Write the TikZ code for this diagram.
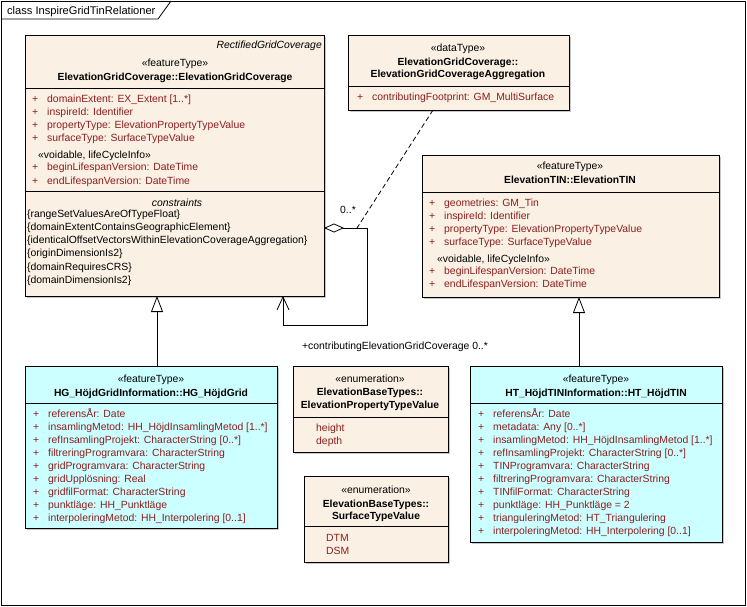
\documentclass[tikz,border=0pt]{standalone}
\usepackage{fontspec}
\setmainfont{Liberation Sans}
\usetikzlibrary{arrows.meta,shadows}
\definecolor{classbeige}{RGB}{250,240,228}
\definecolor{classcyan}{RGB}{204,255,255}
\definecolor{attrred}{RGB}{140,30,30}
\newcommand{\attr}[1]{\makebox[15pt][l]{+}#1}

\begin{document}
\begin{tikzpicture}[x=1pt,y=-1pt,
    every node/.style={font=\fontsize{10.4}{13}\selectfont, inner sep=0pt},
    classbox/.style={draw=black, line width=0.9pt, fill=classbeige, anchor=north west, outer sep=0pt,
        general shadow={fill=black!22, shadow xshift=2pt, shadow yshift=-2pt}},
    newbox/.style={classbox, fill=classcyan},
    sepline/.style={line width=0.9pt},
    stereo/.style={anchor=base},
    cname/.style={anchor=base, font=\fontsize{10.3}{13}\selectfont\bfseries},
    attrtext/.style={anchor=base west, text=attrred},
    plain/.style={anchor=base west},
    gen/.style={-{Triangle[open,length=16pt,width=12pt]}, line width=0.8pt},
    agg/.style={{Diamond[open,length=20pt,width=9pt]}-{Straight Barb[length=13pt,width=12pt]}, line width=0.8pt},
    ]
    \useasboundingbox (0,0) rectangle (747,607);

    % frame
    \draw[line width=0.8pt] (1,1) rectangle (745,605);
    \draw[line width=0.8pt] (1,19) -- (158,19) -- (171,1);
    \node[plain, font=\fontsize{11.1}{13}\selectfont] (framelbl) at (7,15) {class InspireGridTinRelationer};

    % class boxes
    \node[classbox, minimum width=299pt, minimum height=261pt] (gridcov) at (25,35) {};
    \node[classbox, minimum width=221pt, minimum height=75pt] (gridagg) at (348,35) {};
    \node[classbox, minimum width=297pt, minimum height=142pt] (tin) at (422,155) {};
    \node[newbox, minimum width=252pt, minimum height=162pt] (hgrid) at (25,366) {};
    \node[classbox, minimum width=155pt, minimum height=86pt] (proptype) at (293,366) {};
    \node[classbox, minimum width=144pt, minimum height=86pt] (surftype) at (304,476) {};
    \node[newbox, minimum width=252pt, minimum height=176pt] (htin) at (470,366) {};

    % compartments
    \draw[sepline] (gridcov.north west) ++(0,53) -- +(299,0);
    \draw[sepline] (gridcov.north west) ++(0,156) -- +(299,0);
    \draw[sepline] (gridagg.north west) ++(0,51) -- +(221,0);
    \draw[sepline] (tin.north west) ++(0,37) -- +(297,0);
    \draw[sepline] (hgrid.north west) ++(0,37) -- +(252,0);
    \draw[sepline] (proptype.north west) ++(0,51) -- +(155,0);
    \draw[sepline] (surftype.north west) ++(0,50) -- +(144,0);
    \draw[sepline] (htin.north west) ++(0,37) -- +(252,0);

    % ElevationGridCoverage
    \node[anchor=base east, font=\fontsize{10.4}{13}\selectfont\itshape] (gc-abs) at (322,49) {RectifiedGridCoverage};
    \node[stereo] (gc-st) at (175,67) {«featureType»};
    \node[cname] (gc-nm) at (175,81) {ElevationGridCoverage::ElevationGridCoverage};
    \foreach \txt [count=\i from 0] in {{domainExtent: EX\_Extent [1..*]}, {inspireId: Identifier},
        {propertyType: ElevationPropertyTypeValue}, {surfaceType: SurfaceTypeValue}}
        \node[attrtext] (gc-a\i) at (32,103+13*\i) {\attr{\txt}};
    \node[plain] (gc-vd) at (38,159) {«voidable, lifeCycleInfo»};
    \node[attrtext] (gc-b0) at (32,171) {\attr{beginLifespanVersion: DateTime}};
    \node[attrtext] (gc-b1) at (32,185) {\attr{endLifespanVersion: DateTime}};
    \node[stereo, font=\fontsize{10.4}{13}\selectfont\itshape] (gc-cs) at (177,206) {constraints};
    \foreach \txt [count=\i from 0] in {{\{rangeSetValuesAreOfTypeFloat\}}, {\{domainExtentContainsGeographicElement\}},
        {\{identicalOffsetVectorsWithinElevationCoverageAggregation\}}, {\{originDimensionIs2\}},
        {\{domainRequiresCRS\}}, {\{domainDimensionIs2\}}}
        \node[plain] (gc-c\i) at (27,217+13.3*\i) {\txt};

    % ElevationGridCoverageAggregation
    \node[stereo] (ga-st) at (458,52) {«dataType»};
    \node[cname] (ga-nm1) at (458,66) {ElevationGridCoverage::};
    \node[cname] (ga-nm2) at (458,78) {ElevationGridCoverageAggregation};
    \node[attrtext] (ga-a0) at (357,101) {\attr{contributingFootprint: GM\_MultiSurface}};

    % ElevationTIN
    \node[stereo] (tn-st) at (570,170) {«featureType»};
    \node[cname] (tn-nm) at (570,183) {ElevationTIN::ElevationTIN};
    \foreach \txt [count=\i from 0] in {{geometries: GM\_Tin}, {inspireId: Identifier},
        {propertyType: ElevationPropertyTypeValue}, {surfaceType: SurfaceTypeValue}}
        \node[attrtext] (tn-a\i) at (429,206+13*\i) {\attr{\txt}};
    \node[plain] (tn-vd) at (437,262) {«voidable, lifeCycleInfo»};
    \node[attrtext] (tn-b0) at (429,274) {\attr{beginLifespanVersion: DateTime}};
    \node[attrtext] (tn-b1) at (429,287) {\attr{endLifespanVersion: DateTime}};

    % HG_HoejdGrid
    \node[stereo] (hg-st) at (151,382) {«featureType»};
    \node[cname] (hg-nm) at (151,396) {HG\_HöjdGridInformation::HG\_HöjdGrid};
    \foreach \txt [count=\i from 0] in {{referensÅr: Date}, {insamlingMetod: HH\_HöjdInsamlingMetod [1..*]},
        {refInsamlingProjekt: CharacterString [0..*]}, {filtreringProgramvara: CharacterString},
        {gridProgramvara: CharacterString}, {gridUpplösning: Real}, {gridfilFormat: CharacterString},
        {punktläge: HH\_Punktläge}, {interpoleringMetod: HH\_Interpolering [0..1]}}
        \node[attrtext] (hg-a\i) at (33,417+13*\i) {\attr{\txt}};

    % enumerations
    \node[stereo] (pt-st) at (370,382) {«enumeration»};
    \node[cname] (pt-nm1) at (370,395) {ElevationBaseTypes::};
    \node[cname] (pt-nm2) at (370,408) {ElevationPropertyTypeValue};
    \node[attrtext] (pt-l0) at (316,431) {height};
    \node[attrtext] (pt-l1) at (316,444) {depth};

    \node[stereo] (st-st) at (376,493) {«enumeration»};
    \node[cname] (st-nm1) at (376,507) {ElevationBaseTypes::};
    \node[cname] (st-nm2) at (376,519) {SurfaceTypeValue};
    \node[attrtext] (st-l0) at (326,541) {DTM};
    \node[attrtext] (st-l1) at (326,554) {DSM};

    % HT_HoejdTIN
    \node[stereo] (ht-st) at (596,382) {«featureType»};
    \node[cname] (ht-nm) at (596,396) {HT\_HöjdTINInformation::HT\_HöjdTIN};
    \foreach \txt [count=\i from 0] in {{referensÅr: Date}, {metadata: Any [0..*]},
        {insamlingMetod: HH\_HöjdInsamlingMetod [1..*]}, {refInsamlingProjekt: CharacterString [0..*]},
        {TINProgramvara: CharacterString}, {filtreringProgramvara: CharacterString},
        {TINfilFormat: CharacterString}, {punktläge: HH\_Punktläge = 2},
        {trianguleringMetod: HT\_Triangulering}, {interpoleringMetod: HH\_Interpolering [0..1]}}
        \node[attrtext] (ht-a\i) at (478,417+13*\i) {\attr{\txt}};

    % generalisations
    \coordinate (hgtop) at ([xshift=6pt]hgrid.north);
    \coordinate (httop) at ([xshift=-17pt]htin.north);
    \draw[gen] (hgtop) -- (hgtop |- gridcov.south);
    \draw[gen] (httop) -- (httop |- tin.south);

    % self aggregation with association class
    \coordinate (aggstart) at ([yshift=-62.5pt]gridcov.east);
    \coordinate (aggend) at ([xshift=108.5pt]gridcov.south);
    \coordinate (aggmid) at ([xshift=33pt]aggstart);
    \coordinate (aggfoot) at ([xshift=-25.5pt]gridagg.south);
    \draw[agg] (aggstart) -| ++(43,97) -| (aggend);
    \draw[line width=0.8pt, dash pattern=on 5pt off 3pt] (aggfoot) -- (aggmid);
    \node (multsrc) at (348,210) {0..*};
    \node (roletgt) at (395,347) {+contributingElevationGridCoverage 0..*};
\end{tikzpicture}
\end{document}
